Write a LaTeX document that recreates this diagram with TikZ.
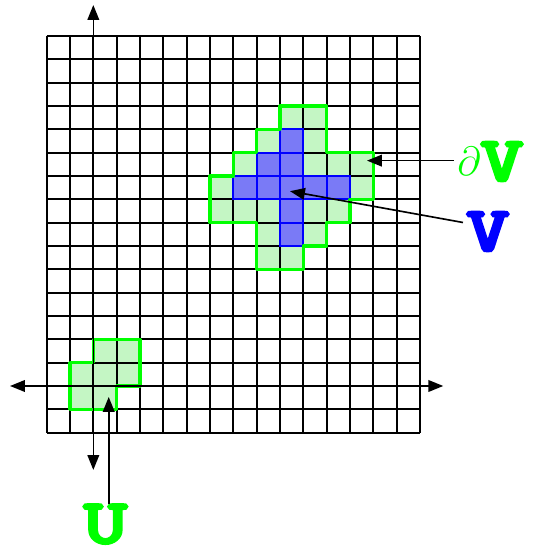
\documentclass[tikz,border=0pt]{standalone}
\usepackage{fontspec}
\usepackage{xcolor}
\usepackage{tikz}
\newfontfamily\lblfont{lmmono10-regular.otf}[FakeBold=5]
\usetikzlibrary{arrows.meta}
\definecolor{cellgreen}{RGB}{196, 246, 196}
\definecolor{cellblue}{RGB}{122, 122, 246}
\newcommand{\wideletter}[1]{\scalebox{1.3}[1]{#1}}

\begin{document}
\begin{tikzpicture}[
    x=0.5cm, y=0.5cm,
    gridline/.style={line width=1.1pt},
    arrow/.style={-{Triangle[length=3.2mm, width=2.5mm]}, line width=1pt},
    axis/.style={{Triangle[length=3.2mm, width=2.5mm]}-{Triangle[length=3.2mm, width=2.5mm]}, line width=1pt},
    gcell/.style={fill=cellgreen},
    bcell/.style={fill=cellblue},
    bline/.style={draw=blue, line width=1.3pt},
    rim/.style={draw=green, line width=1.9pt, line join=round},
    lbl/.style={font=\fontsize{38}{38}\selectfont\lblfont, inner sep=2pt}
]
\useasboundingbox (-4,-7.03) rectangle (18.85,16.545);

% cells of U and of the boundary of V
\foreach \x/\y in {0/1, 1/1, -1/0, 0/0, 1/0, -1/-1, 0/-1,
                   8/11, 9/11, 7/10, 9/10, 6/9, 9/9, 10/9, 11/9, 5/8, 11/8,
                   5/7, 6/7, 7/7, 9/7, 10/7, 7/6, 9/6, 7/5, 8/5}
    \fill[gcell] (\x,\y) rectangle ++(1,1);
\foreach \x/\y in {8/10, 7/9, 8/9, 6/8, 7/8, 8/8, 9/8, 10/8, 8/7, 8/6}
    \fill[bcell] (\x,\y) rectangle ++(1,1);

\draw[gridline, step=0.5cm] (-2,-2) grid (14,15);

\foreach \x/\y in {8/10, 7/9, 8/9, 6/8, 7/8, 8/8, 9/8, 10/8, 8/7, 8/6}
    \draw[bline] (\x,\y) rectangle ++(1,1);

\draw[rim] (8,12) -- (10,12) -- (10,10) -- (12,10) -- (12,8) -- (11,8) -- (11,7) -- (10,7)
    -- (10,6) -- (9,6) -- (9,5) -- (7,5) -- (7,7) -- (5,7) -- (5,9) -- (6,9) -- (6,10)
    -- (7,10) -- (7,11) -- (8,11) -- cycle;
\draw[rim] (0,2) -- (2,2) -- (2,0) -- (1,0) -- (1,-1) -- (-1,-1) -- (-1,1) -- (0,1) -- cycle;

\draw[axis] (-3.57,0) -- (15,0);
\draw[axis] (0,-3.6) -- (0,16.33);

\coordinate (dVtip) at (11.73,9.66);
\coordinate (Vtip) at (8.43,8.35);
\coordinate (Utip) at (0.66,-0.47);

\node[lbl, text=green, anchor=west] (dV) at (15.45,9.62) {\raisebox{3pt}{\fontsize{29}{29}\selectfont$\partial$}\wideletter{V}};
\node[lbl, text=blue] (V) at (16.91,6.62) {\wideletter{V}};
\node[lbl, text=green, inner sep=0.5pt] (U) at (0.52,-5.92) {\wideletter{U}};

\draw[arrow] (dV.west |- dVtip) -- (dVtip);
\draw[arrow] (V.160) -- (Vtip);
\draw[arrow] (U.north -| Utip) -- (Utip);

\end{tikzpicture}
\end{document}
